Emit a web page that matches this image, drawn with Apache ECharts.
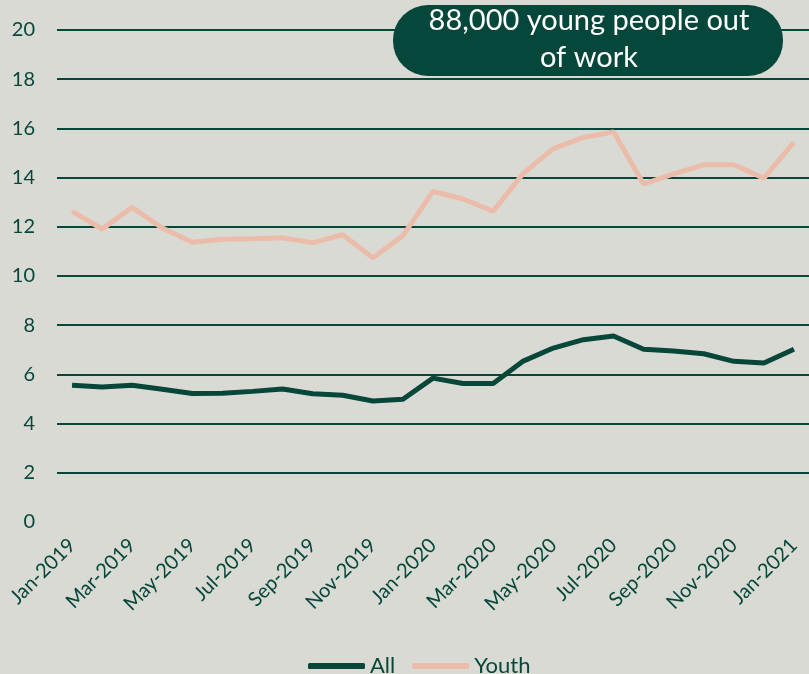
<!DOCTYPE html>
<html>
<head>
<meta charset="utf-8">
<script src="https://cdn.jsdelivr.net/npm/echarts@6/dist/echarts.min.js"></script>
<style>
  html, body { margin: 0; padding: 0; background: #dadad5; }
  #chart { width: 809px; height: 674px; }
</style>
</head>
<body>
<div id="chart"></div>
<script>
(function () {
    'use strict';

    var months = [
        'Jan-2019', 'Feb-2019', 'Mar-2019', 'Apr-2019', 'May-2019', 'Jun-2019',
        'Jul-2019', 'Aug-2019', 'Sep-2019', 'Oct-2019', 'Nov-2019', 'Dec-2019',
        'Jan-2020', 'Feb-2020', 'Mar-2020', 'Apr-2020', 'May-2020', 'Jun-2020',
        'Jul-2020', 'Aug-2020', 'Sep-2020', 'Oct-2020', 'Nov-2020', 'Dec-2020',
        'Jan-2021'
    ];
    var allRate = [
        5.56, 5.49, 5.56, 5.40, 5.22, 5.23, 5.31, 5.41, 5.21, 5.15, 4.92, 4.99,
        5.85, 5.63, 5.63, 6.54, 7.07, 7.41, 7.56, 7.02, 6.95, 6.84, 6.53, 6.46,
        7.02
    ];
    var youthRate = [
        12.63, 11.91, 12.79, 11.95, 11.37, 11.49, 11.51, 11.55, 11.35, 11.68, 10.74, 11.64,
        13.44, 13.13, 12.63, 14.17, 15.18, 15.63, 15.86, 13.74, 14.15, 14.52, 14.52, 13.98,
        15.43
    ];
    var yTicks = { min: 0, max: 20, step: 2 };
    var note = '88,000 young people out\nof work';

    var green = '#06473a';
    var peach = '#ebbca9';
    var font = 'Lato, "Open Sans", sans-serif';

    var chart = echarts.init(document.getElementById('chart'));

    chart.setOption({
        backgroundColor: '#dadad5',
        animation: false,
        grid: { left: 57, right: -6, top: 30, bottom: 152 },
        legend: {
            left: 303,
            top: 650,
            icon: 'roundRect',
            itemWidth: 57,
            itemHeight: 6,
            itemGap: 17,
            textStyle: { color: green, fontFamily: font, fontSize: 22 },
            data: ['All', 'Youth']
        },
        xAxis: {
            type: 'category',
            data: months,
            boundaryGap: true,
            axisLine: { show: false },
            axisTick: { show: false },
            axisLabel: {
                interval: 1,
                rotate: 45,
                margin: 20,
                color: green,
                fontFamily: font,
                fontSize: 20
            }
        },
        yAxis: {
            type: 'value',
            min: yTicks.min,
            max: yTicks.max,
            interval: yTicks.step,
            axisLine: { show: false },
            axisTick: { show: false },
            axisLabel: { margin: 22, color: green, fontFamily: font, fontSize: 20 },
            splitLine: { showMinLine: false, lineStyle: { color: green, width: 2 } }
        },
        series: [
            {
                name: 'All',
                type: 'line',
                data: allRate,
                symbol: 'none',
                lineStyle: { color: green, width: 5 },
                itemStyle: { color: green }
            },
            {
                name: 'Youth',
                type: 'line',
                data: youthRate,
                symbol: 'none',
                lineStyle: { color: peach, width: 5 },
                itemStyle: { color: peach }
            }
        ],
        graphic: [
            {
                type: 'rect',
                shape: { x: 393, y: 5, width: 390, height: 71, r: 35 },
                style: { fill: '#05473a' },
                z: 100
            },
            {
                type: 'text',
                z: 101,
                style: {
                    x: 589,
                    y: 39,
                    text: note,
                    fill: '#ffffff',
                    font: '29px ' + font,
                    lineHeight: 37,
                    textAlign: 'center',
                    textVerticalAlign: 'middle'
                }
            }
        ]
    });

    window.addEventListener('resize', function () {
        chart.resize();
    });
})();
</script>
</body>
</html>
